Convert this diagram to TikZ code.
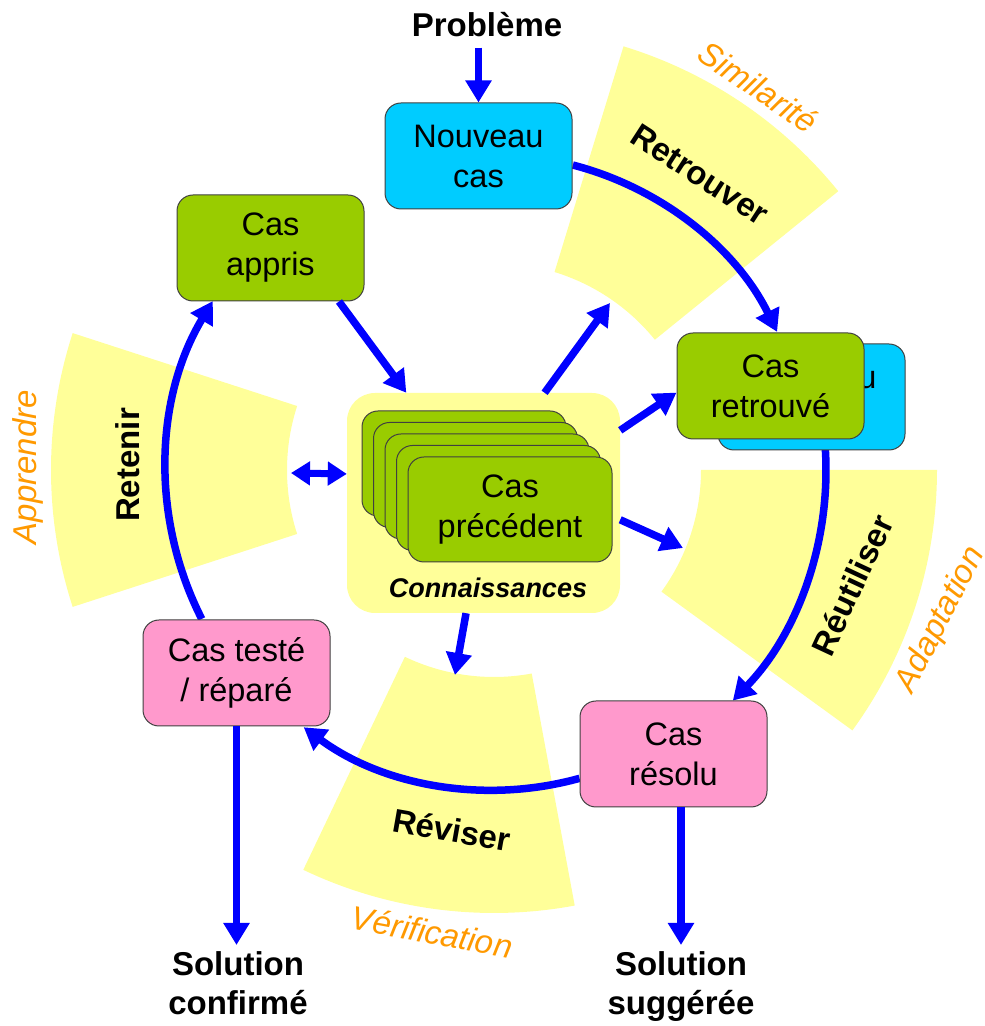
\documentclass[tikz,border=0pt]{standalone}
\usepackage{fontspec}
\setmainfont{Liberation Sans}
\usetikzlibrary{arrows.meta,calc}
\definecolor{secyel}{RGB}{255,255,153}
\definecolor{boxgreen}{RGB}{153,204,0}
\definecolor{boxcyan}{RGB}{0,204,255}
\definecolor{boxpink}{RGB}{255,153,204}
\definecolor{arrblue}{RGB}{0,0,255}
\definecolor{lblorange}{RGB}{255,153,0}
\begin{document}
\begin{tikzpicture}[x=1pt,y=1pt,
  box/.style={draw=black!75, line width=1pt, rounded corners=16pt,
    minimum width=187pt, minimum height=106pt, inner sep=0pt, align=center,
    font=\fontsize{32.5}{40}\selectfont},
  greenbox/.style={box, fill=boxgreen},
  cyanbox/.style={box, fill=boxcyan},
  pinkbox/.style={box, fill=boxpink},
  stackbox/.style={greenbox, minimum width=204pt, minimum height=105pt},
  arr/.style={draw=arrblue, line width=7.5pt, -{Triangle[width=25pt,length=22pt]}},
  dblarr/.style={draw=arrblue, line width=7pt,
    {Triangle[width=23pt,length=19pt]}-{Triangle[width=23pt,length=19pt]}},
  sector/.style={fill=secyel},
  phase/.style={font=\fontsize{33}{38}\bfseries\selectfont, inner sep=0pt},
  aspect/.style={text=lblorange, font=\fontsize{33}{38}\itshape\selectfont, inner sep=0pt},
  outlbl/.style={font=\fontsize{33}{39}\bfseries\selectfont, align=center, inner xsep=0pt}
]
\useasboundingbox (0,0) rectangle (985,1026);
\coordinate (C) at (494,556);

% yellow sectors
\fill[sector] ($(C)+(39:207)$) arc[start angle=39,end angle=73,radius=207]
  -- ($(C)+(73:443)$) arc[start angle=73,end angle=39,radius=443] -- cycle;
\fill[sector] ($(C)+(-36:207)$) arc[start angle=-36,end angle=0,radius=207]
  -- ($(C)+(0:443)$) arc[start angle=0,end angle=-36,radius=443] -- cycle;
\fill[sector] ($(C)+(-115.5:207)$) arc[start angle=-115.5,end angle=-79.5,radius=207]
  -- ($(C)+(-79.5:443)$) arc[start angle=-79.5,end angle=-115.5,radius=443] -- cycle;
\fill[sector] ($(C)+(162:207)$) arc[start angle=162,end angle=198,radius=207]
  -- ($(C)+(198:443)$) arc[start angle=198,end angle=162,radius=443] -- cycle;

% phase labels
\node[phase, rotate=-33] (lRetr) at (700,851) {Retrouver};
\node[phase, rotate=65] (lReut) at (852,441) {Réutiliser};
\node[phase, rotate=-10] (lRevi) at (452,196) {Réviser};
\node[phase, rotate=90] (lRete) at (128,561) {Retenir};

% aspect labels
\node[aspect, rotate=-34] (sSim) at (758,939) {Similarité};
\node[aspect, rotate=63] (sAda) at (941,406) {Adaptation};
\node[aspect, rotate=-10.5] (sVer) at (432,94) {Vérification};
\node[aspect, rotate=90] (sApp) at (28,559) {Apprendre};

% cycle arcs
\coordinate (a1) at ($(C)+(75.5:315)$);
\coordinate (a2) at ($(C)+(3.5:332)$);
\coordinate (a3) at ($(C)+(-74.5:320)$);
\coordinate (a4) at ($(C)+(207:328)$);
\draw[arr] (a1) arc[start angle=75.5, end angle=26, radius=315];
\draw[arr] (a2) arc[start angle=3.5, end angle=-44, radius=332];
\draw[arr] (a3) arc[start angle=-74.5, end angle=-126.5, radius=320];
\draw[arr] (a4) arc[start angle=207, end angle=149, radius=328];

% boxes
\node[cyanbox] (nc) at (478.5,870) {Nouveau\\cas};
\node[cyanbox] (ncb) at (811.5,629) {Nouveau\\cas};
\node[greenbox] (cr) at (770.5,640) {Cas\\retrouvé};
\node[greenbox] (ca) at (270.5,778) {Cas\\appris};
\node[pinkbox] (cres) at (673.5,272) {Cas\\résolu};
\node[pinkbox] (ct) at (236.5,353) {Cas testé\\/ réparé};

% knowledge base
\node[fill=secyel, rounded corners=28pt, minimum width=273pt, minimum height=220pt, inner sep=0pt] (kb) at (483.5,523) {};
\node[stackbox] (p4) at (464,562.5) {};
\node[stackbox] (p3) at (475.5,551) {};
\node[stackbox] (p2) at (487,539.5) {};
\node[stackbox] (p1) at (498.5,528) {};
\node[stackbox] (p0) at (510,516.5) {Cas\\précédent};
\node[font=\fontsize{27}{30}\bfseries\itshape\selectfont] (conn) at (488,438) {Connaissances};

% input / outputs
\node[outlbl, anchor=base, inner ysep=10pt] (pb) at (487,989) {Problème};
\node[outlbl, anchor=north, inner ysep=6pt] (sc) at (238,81) {Solution\\confirmé};
\node[outlbl, anchor=north, inner ysep=6pt] (ss) at (681,81) {Solution\\suggérée};

% targets on sectors
\coordinate (tRetr) at (610,723);
\coordinate (tReut) at (683,478);
\coordinate (tRevi) at (455,351);
\coordinate (tRete) at (291,553);

% straight arrows
\draw[arr] (pb.south -| nc.north) -- (nc.north);
\draw[arr] (ca.-38.7) -- (kb.125);
\draw[arr] (kb.61) -- (tRetr);
\draw[arr] (kb.28) -- (cr.184);
\draw[arr] (kb.-7) -- (tReut);
\draw[arr] (kb.-99) -- (tRevi);
\draw[dblarr] (tRete) -- (kb.168);
\draw[arr] (ct.south) -- (ct.south |- sc.north);
\draw[arr] (ss.north |- cres.south) -- (ss.north);
\end{tikzpicture}
\end{document}
